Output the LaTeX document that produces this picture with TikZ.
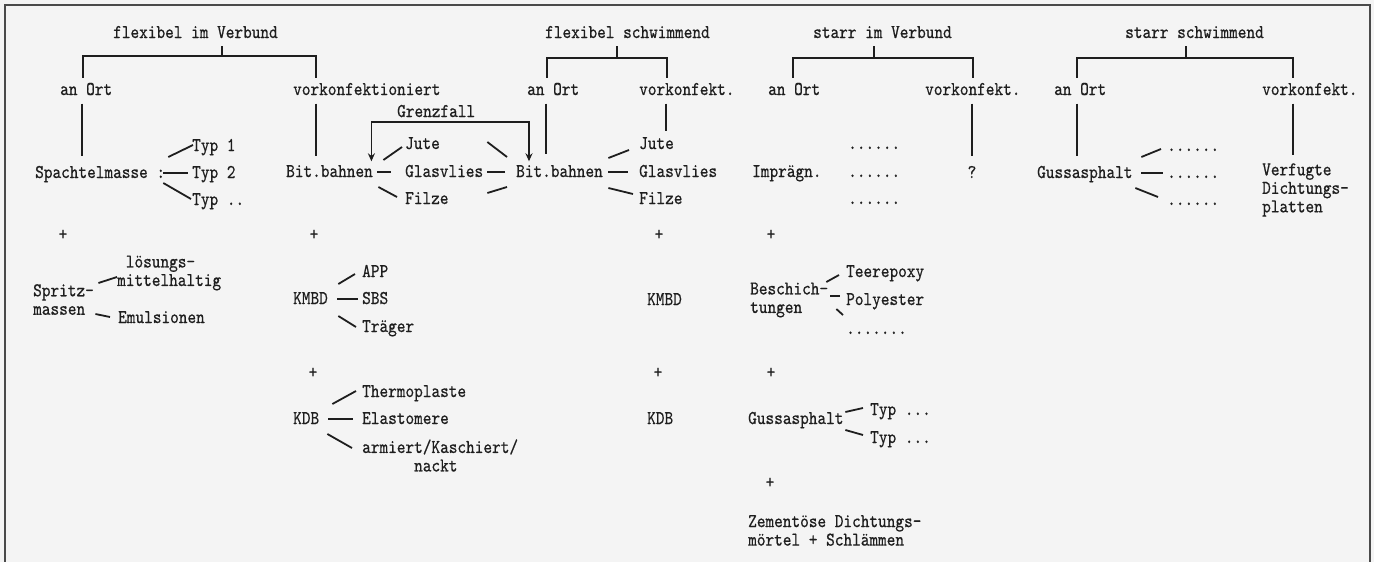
\documentclass[tikz,border=0pt]{standalone}
\usepackage{fontspec}
\usetikzlibrary{arrows.meta}
\definecolor{ink}{HTML}{1E1E1E}
\definecolor{paper}{HTML}{F4F4F4}
\definecolor{framec}{HTML}{4A4A4A}
\newfontfamily\tyff{lmmono10-regular.otf}[FakeStretch=0.846, FakeBold=0.6]
\newcommand\tyfont{\tyff\fontsize{19.5}{18.5}\selectfont}
\tikzset{
  txt/.style={font=\tyfont, text=ink, inner sep=0pt, anchor=west, text height=12pt, text depth=2pt},
  ctxt/.style={txt, anchor=center},
  mtxt/.style={font=\tyfont, text=ink, inner sep=0pt, anchor=west, align=left},
  ln/.style={draw=ink, line width=1.8pt},
  arr/.style={ln, arrows={Stealth[length=8pt,width=7pt]-Stealth[length=8pt,width=7pt]}},
  frameline/.style={draw=framec, line width=1.6pt},
}
\begin{document}
\begin{tikzpicture}[x=1pt, y=-1pt]
\useasboundingbox (0,0) rectangle (1374,562);
\fill[paper] (0,0) rectangle (1374,562);
\draw[frameline] (5,562) -- (5,5) -- (1370,5) -- (1370,562);

% ---- headers
\node[txt] (h1) at (113,33) {flexibel im Verbund};
\node[txt] (h2) at (545,33) {flexibel schwimmend};
\node[txt] (h3) at (813,33) {starr im Verbund};
\node[txt] (h4) at (1125,33) {starr schwimmend};
% ---- second level
\node[txt] (a1) at (60,90) {an Ort};
\node[txt] (v1) at (293,90) {vorkonfektioniert};
\node[txt] (a2) at (527,90) {an Ort};
\node[txt] (v2) at (639,90) {vorkonfekt.};
\node[txt] (a3) at (768,90) {an Ort};
\node[txt] (v3) at (925,90) {vorkonfekt.};
\node[txt] (a4) at (1054,90) {an Ort};
\node[txt] (v4) at (1262,90) {vorkonfekt.};
% ---- third level
\node[txt] (spach) at (35,173) {Spachtelmasse :};
\node[txt] (typ1) at (192,146) {Typ 1};
\node[txt] (typ2) at (192,173) {Typ 2};
\node[txt] (typ3) at (192,200) {Typ ..};
\node[txt] (bb1) at (286,172) {Bit.bahnen};
\node[txt] (grenz) at (397,112) {Grenzfall};
\node[txt] (jute1) at (405,144) {Jute};
\node[txt] (glas1) at (405,172) {Glasvlies};
\node[txt] (filze1) at (405,199) {Filze};
\node[txt] (bb2) at (516,172) {Bit.bahnen};
\node[txt] (jute2) at (639,144) {Jute};
\node[txt] (glas2) at (639,172) {Glasvlies};
\node[txt] (filze2) at (639,199) {Filze};
\node[txt] (impr) at (752,172) {Imprägn.};
\node[txt] (d31) at (848,144) {......};
\node[txt] (d32) at (848,172) {......};
\node[txt] (d33) at (848,199) {......};
\node[ctxt] (q) at (972,173) {?};
\node[txt] (guss1) at (1037,173) {Gussasphalt};
\node[txt] (d41) at (1167,146) {......};
\node[txt] (d42) at (1167,173) {......};
\node[txt] (d43) at (1167,200) {......};
\node[mtxt] (verf) at (1262,190) {Verfugte\\Dichtungs-\\platten};
% ---- fourth level
\node[ctxt] (p1) at (63,235) {+};
\node[ctxt] (p2) at (314,235) {+};
\node[ctxt] (p3) at (659,235) {+};
\node[ctxt] (p4) at (771,235) {+};
\node[mtxt] (spritz) at (33,299.5) {Spritz-\\massen};
\node[mtxt] (loes) at (117,273) {\hphantom{m}lösungs-\\mittelhaltig};
\node[txt] (emul) at (118,318) {Emulsionen};
\node[txt] (kmbd1) at (293,299) {KMBD};
\node[txt] (app) at (362,272) {APP};
\node[txt] (sbs) at (362,299) {SBS};
\node[txt] (trae) at (362,327) {Träger};
\node[ctxt] (p5) at (313,373) {+};
\node[txt] (kdb1) at (293,419) {KDB};
\node[txt] (thermo) at (362,392) {Thermoplaste};
\node[txt] (elast) at (362,419) {Elastomere};
\node[mtxt] (armiert) at (362,455.5) {armiert/Kaschiert/\\\hphantom{mmmmmm}nackt};
\node[txt] (kmbd2) at (647,300) {KMBD};
\node[txt] (kdb2) at (647,419) {KDB};
\node[mtxt] (besch) at (750,300) {Beschich-\\tungen};
\node[txt] (teer) at (846,272) {Teerepoxy};
\node[txt] (poly) at (846,300) {Polyester};
\node[txt] (d5) at (846,329) {.......};
\node[ctxt] (p6) at (658,373) {+};
\node[ctxt] (p7) at (771,373) {+};
\node[txt] (guss2) at (748,419) {Gussasphalt};
\node[txt] (typa) at (870,410) {Typ ...};
\node[txt] (typb) at (870,438) {Typ ...};
\node[ctxt] (p8) at (770,483) {+};
\node[mtxt] (zem) at (748,530.5) {Zementöse Dichtungs-\\mörtel + Schlämmen};

% ---- brackets
\draw[ln] ([shift={(26.7,6)}]h1.south) -- ++(0,10) coordinate (j1);
\draw[ln] ([shift={(-3,-5)}]a1.north) |- (j1) -| ([shift={(-50.5,-5)}]v1.north);
\draw[ln] ([shift={(-10.3,6)}]h2.south) -- ++(0,12) coordinate (j2);
\draw[ln] ([shift={(-6,-5)}]a2.north) |- (j2) -| ([shift={(-19.6,-5)}]v2.north);
\draw[ln] ([shift={(-8.3,6)}]h3.south) -- ++(0,12) coordinate (j3);
\draw[ln] ([shift={(-1,-5)}]a3.north) |- (j3) -| ([shift={(0.4,-5)}]v3.north);
\draw[ln] ([shift={(-8.3,6)}]h4.south) -- ++(0,12) coordinate (j4);
\draw[ln] ([shift={(-3,-5)}]a4.north) |- (j4) -| ([shift={(-16.6,-5)}]v4.north);

% ---- vertical links
\path ([xshift=-4pt]a1.south) coordinate (t1);
\draw[ln, shorten <=6.5pt, shorten >=9.5pt] (t1) -- (t1 |- spach.north);
\path ([xshift=-50.5pt]v1.south) coordinate (t2);
\draw[ln, shorten <=6.5pt, shorten >=8.5pt] (t2) -- (t2 |- bb1.north);
\path ([xshift=-7pt]a2.south) coordinate (t3);
\draw[ln, shorten <=6.5pt, shorten >=10.5pt] (t3) -- (t3 |- bb2.north);
\path ([xshift=-20.6pt]v2.south) coordinate (t4);
\draw[ln, shorten <=6.5pt, shorten >=5.5pt] (t4) -- (t4 |- jute2.north);
\path ([xshift=-0.6pt]v3.south) coordinate (t5);
\draw[ln, shorten <=6.5pt, shorten >=9.5pt] (t5) -- (t5 |- q.north);
\path ([xshift=-3pt]a4.south) coordinate (t6);
\draw[ln, shorten <=6.5pt, shorten >=9.5pt] (t6) -- (t6 |- guss1.north);
\path ([xshift=-16.6pt]v4.south) coordinate (t7);
\draw[ln, shorten <=6.5pt, shorten >=8.5pt] (t7) -- (t7 |- verf.north);

% ---- Grenzfall
\draw[arr] ([shift={(-1.6,-3.5)}]bb1.north east) -- ++(0,-39) -| ([shift={(13,-3.5)}]bb2.north west);

% ---- fans
\draw[ln] ([shift={(3,-16)}]spach.east) -- ([shift={(1,-1)}]typ1.west);
\draw[ln] ([shift={(-2,0)}]spach.east) -- ([shift={(-4,0)}]typ2.west);
\draw[ln] ([shift={(-2,10)}]spach.east) -- ([shift={(-1,-1)}]typ3.west);

\draw[ln] ([shift={(10.4,-12)}]bb1.east) -- ([shift={(-3,3)}]jute1.west);
\draw[ln] ([shift={(4.4,0)}]bb1.east) -- ([shift={(-14,0)}]glas1.west);
\draw[ln] ([shift={(5.4,15)}]bb1.east) -- ([shift={(-8,-2)}]filze1.west);

\draw[ln] ([shift={(-9,-15)}]bb2.west) -- ([shift={(4,-30)}]glas1.east);
\draw[ln] ([shift={(-11,0)}]bb2.west) -- ([shift={(4,0)}]glas1.east);
\draw[ln] ([shift={(-9,15)}]bb2.west) -- ([shift={(4,21)}]glas1.east);

\draw[ln] ([shift={(5.4,-14)}]bb2.east) -- ([shift={(-10,6)}]jute2.west);
\draw[ln] ([shift={(5.4,0)}]bb2.east) -- ([shift={(-11,0)}]glas2.west);
\draw[ln] ([shift={(5.4,16)}]bb2.east) -- ([shift={(-6,-5)}]filze2.west);

\draw[ln] ([shift={(8.7,-16)}]guss1.east) -- ([shift={(-6,3)}]d41.west);
\draw[ln] ([shift={(8.7,0)}]guss1.east) -- ([shift={(-4,0)}]d42.west);
\draw[ln] ([shift={(2.7,15)}]guss1.east) -- ([shift={(-9,-3)}]d43.west);

\draw[ln] ([shift={(4.4,-16.5)}]spritz.east) -- ([shift={(0,4)}]loes.west);
\draw[ln] ([shift={(1.4,14.5)}]spritz.east) -- ([shift={(-8,-1)}]emul.west);

\draw[ln] ([shift={(10.3,-15)}]kmbd1.east) -- ([shift={(-7,2)}]app.west);
\draw[ln] ([shift={(9.3,0)}]kmbd1.east) -- ([shift={(-4,0)}]sbs.west);
\draw[ln] ([shift={(10.3,17)}]kmbd1.east) -- ([shift={(-6,0)}]trae.west);

\draw[ln] ([shift={(13,-15)}]kdb1.east) -- ([shift={(-6,-1)}]thermo.west);
\draw[ln] ([shift={(9,0)}]kdb1.east) -- ([shift={(-9,0)}]elast.west);
\draw[ln] ([shift={(8,15)}]kdb1.east) -- ([shift={(-10,-7.5)}]armiert.west);

\draw[ln] ([shift={(-2,-18)}]besch.east) -- ([shift={(-7,3)}]teer.west);
\draw[ln] ([shift={(2,-4)}]besch.east) -- ([shift={(-6,-4)}]poly.west);
\draw[ln] ([shift={(8,9)}]besch.east) -- ([shift={(-3,-14)}]d5.west);

\draw[ln] ([shift={(1.7,-7)}]guss2.east) -- ([shift={(-7,-2)}]typa.west);
\draw[ln] ([shift={(1.7,11)}]guss2.east) -- ([shift={(-7,-3)}]typb.west);
\end{tikzpicture}
\end{document}
